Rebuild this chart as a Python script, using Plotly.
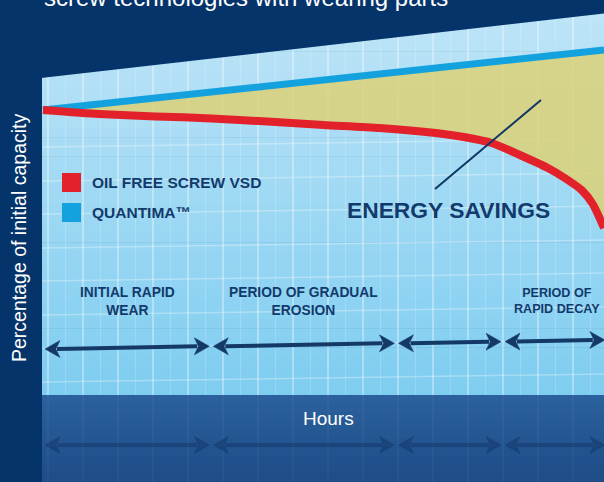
import plotly.graph_objects as go

# ---------------- data ----------------
hours_red = [0, 1, 2, 3, 4, 5, 6, 7, 7.5, 8, 8.5, 9, 9.3, 9.6, 9.8, 10]
oil_free_vsd = [100, 99.0, 98.4, 97.9, 97.1, 96.25, 95.5, 94.25, 93.25, 91.75,
                88.75, 85.5, 83.0, 80.0, 76.5, 70.5]
hours_blue = [0, 2, 4, 6, 8, 10]
quantima = [100, 103, 106, 109, 112, 115]
series_names = ["OIL FREE SCREW VSD", "QUANTIMA\u2122"]
phase_edges = [0, 3.0, 6.3, 8.2, 10.05]
phase_labels = ["INITIAL RAPID<br>WEAR", "PERIOD OF GRADUAL<br>EROSION", "",
                "PERIOD OF<br>RAPID DECAY"]
title_text = "screw technologies with wearing parts"
y_title = "Percentage of initial capacity"
x_title = "Hours"
callout = "ENERGY SAVINGS"

# ---------------- styling ----------------
W, H = 604, 482
NAVY = "#05346a"
TXT = "#123a6c"
RED = "#e3212b"
BLUE = "#14a2de"
YELLOW = "rgba(221,209,114,0.82)"
FONT = "Liberation Sans, Arial, sans-serif"

# pixel <-> data helpers (layout geometry only)
X0PX, XSCALE = 43.0, 56.1      # px of hour 0, px per hour
Y0PX, YSCALE = 110.0, 4.0      # px of 100 %, px per %


def fx(px):
    return (px - X0PX) / XSCALE


def fy(py):
    return 100 - (py - Y0PX) / YSCALE


def hx(h):
    return X0PX + h * XSCALE


def lerp_col(c1, c2, t):
    a = [int(c1[i:i + 2], 16) for i in (1, 3, 5)]
    b = [int(c2[i:i + 2], 16) for i in (1, 3, 5)]
    return "rgb(%d,%d,%d)" % tuple(round(a[k] + (b[k] - a[k]) * t) for k in range(3))


def poly(pts):
    return "M " + " L ".join("%.4f,%.4f" % (fx(p[0]), fy(p[1])) for p in pts) + " Z"


shapes = []
LEFT, RIGHT, TOP_L, TOP_R, BOT = 42, 604, 78, 13, 395

# light-blue panel as vertical gradient bands
N = 40
for i in range(N):
    t0 = TOP_R + (BOT - TOP_R) * i / N
    t1 = TOP_R + (BOT - TOP_R) * (i + 1) / N + 0.6
    shapes.append(dict(type="rect", xref="x", yref="y", layer="below",
                       x0=fx(LEFT), x1=fx(RIGHT + 2), y0=fy(t0), y1=fy(t1),
                       fillcolor=lerp_col("#bde4f7", "#7fcdf0", i / (N - 1)),
                       line=dict(width=0)))

# vertical grid lines
px = 48.0
while px < RIGHT:
    topy = TOP_L + (TOP_R - TOP_L) * (px - LEFT) / (RIGHT - LEFT)
    shapes.append(dict(type="line", xref="x", yref="y", layer="below",
                       x0=fx(px), x1=fx(px), y0=fy(topy), y1=fy(BOT),
                       line=dict(color="rgba(255,255,255,0.42)", width=1.6)))
    mx = px + 17.5
    if mx < RIGHT:
        topm = TOP_L + (TOP_R - TOP_L) * (mx - LEFT) / (RIGHT - LEFT)
        shapes.append(dict(type="line", xref="x", yref="y", layer="below",
                           x0=fx(mx), x1=fx(mx), y0=fy(topm), y1=fy(BOT),
                           line=dict(color="rgba(255,255,255,0.18)", width=1.2)))
    px += 35.0

# horizontal grid lines (slightly tilted)
for py in [143, 177, 210, 244, 277, 311, 344, 378]:
    shapes.append(dict(type="line", xref="x", yref="y", layer="below",
                       x0=fx(LEFT), x1=fx(RIGHT + 2), y0=fy(py + 4), y1=fy(py - 4),
                       line=dict(color="rgba(255,255,255,0.3)", width=1.5)))

# navy cover above the slanted top edge
shapes.append(dict(type="path", xref="x", yref="y", layer="below",
                   path=poly([(LEFT - 1, -5), (RIGHT + 5, -5), (RIGHT + 5, TOP_R),
                              (LEFT - 1, TOP_L)]),
                   fillcolor=NAVY, line=dict(width=0)))

# bottom dark-blue band
NB = 10
for i in range(NB):
    t0 = BOT + (H - BOT) * i / NB
    t1 = BOT + (H - BOT) * (i + 1) / NB + 0.6
    shapes.append(dict(type="rect", xref="x", yref="y", layer="below",
                       x0=fx(LEFT), x1=fx(RIGHT + 2), y0=fy(t0), y1=fy(t1),
                       fillcolor=lerp_col("#2a609c", "#1f4d87", i / (NB - 1)),
                       line=dict(width=0)))
px = 48.0
while px < RIGHT:
    shapes.append(dict(type="line", xref="x", yref="y", layer="below",
                       x0=fx(px), x1=fx(px), y0=fy(BOT), y1=fy(H),
                       line=dict(color="rgba(255,255,255,0.05)", width=1.5)))
    px += 35.0


def add_arrow(p1, p2, y1, y2, color, shaft=4.0, hl=15.0, hh=8.5):
    shapes.append(dict(type="line", xref="x", yref="y", layer="above",
                       x0=fx(p1 + hl - 3), x1=fx(p2 - hl + 3),
                       y0=fy(y1), y1=fy(y2), line=dict(color=color, width=shaft)))
    shapes.append(dict(type="path", xref="x", yref="y", layer="above",
                       path=poly([(p1, y1), (p1 + hl, y1 - hh), (p1 + hl * 0.72, y1),
                                  (p1 + hl, y1 + hh)]),
                       fillcolor=color, line=dict(color=color, width=0.5)))
    shapes.append(dict(type="path", xref="x", yref="y", layer="above",
                       path=poly([(p2, y2), (p2 - hl, y2 - hh), (p2 - hl * 0.72, y2),
                                  (p2 - hl, y2 + hh)]),
                       fillcolor=color, line=dict(color=color, width=0.5)))


def row_y(px, base_left, base_right):
    return base_left + (base_right - base_left) * (px - 45) / (604 - 45)


annotations = []
GAP = 2.0
for i in range(len(phase_edges) - 1):
    p1 = hx(phase_edges[i]) + GAP
    p2 = hx(phase_edges[i + 1]) - GAP
    add_arrow(p1, p2, row_y(p1, 349, 340), row_y(p2, 349, 340), "#143966")
    add_arrow(p1, p2, row_y(p1, 445, 445), row_y(p2, 445, 445),
              "rgba(18,55,105,0.55)")
    if phase_labels[i]:
        last = i == len(phase_edges) - 2
        annotations.append(dict(x=fx(602) if last else
                                (phase_edges[i] + phase_edges[i + 1]) / 2,
                                xanchor="right" if last else "center",
                                y=fy(301), xref="x", yref="y",
                                text="<b>%s</b>" % phase_labels[i],
                                showarrow=False, align="center",
                                font=dict(family=FONT, size=12.6 if last else 13.8,
                                          color=TXT)))

# callout leader line
shapes.append(dict(type="line", xref="x", yref="y", layer="above",
                   x0=fx(435), y0=fy(189), x1=fx(541), y1=fy(100),
                   line=dict(color="#0f3566", width=2)))

# legend swatches + text
for name, col, py in [(series_names[0], RED, 182.5), (series_names[1], BLUE, 212.5)]:
    shapes.append(dict(type="rect", xref="x", yref="y", layer="above",
                       x0=fx(62), x1=fx(81), y0=fy(py - 9.5), y1=fy(py + 9.5),
                       fillcolor=col, line=dict(width=0)))
    annotations.append(dict(x=fx(90), y=fy(py), xref="x", yref="y", xanchor="left",
                            yanchor="middle", text="<b>%s</b>" % name, showarrow=False,
                            font=dict(family=FONT, size=15.5, color=TXT)))

annotations += [
    dict(x=fx(448), y=fy(210), xref="x", yref="y", text="<b>%s</b>" % callout,
         showarrow=False, font=dict(family=FONT, size=22.8, color=TXT)),
    dict(x=fx(328), y=fy(418), xref="x", yref="y", text=x_title, showarrow=False,
         font=dict(family=FONT, size=19, color="white")),
    dict(x=fx(19), y=fy(238), xref="x", yref="y", text=y_title, textangle=-90,
         showarrow=False, font=dict(family=FONT, size=19.5, color="white")),
    dict(x=42 / W, y=1 + 3 / H, xref="paper", yref="paper", xanchor="left",
         yanchor="middle", text=title_text, showarrow=False,
         font=dict(family=FONT, size=24, color="white")),
]

fig = go.Figure()
fig.add_trace(go.Scatter(x=hours_blue, y=quantima, mode="lines", name=series_names[1],
                         line=dict(color=BLUE, width=7), showlegend=False,
                         hoverinfo="skip"))
fig.add_trace(go.Scatter(x=hours_red, y=oil_free_vsd, mode="lines",
                         name=series_names[0], fill="tonexty", fillcolor=YELLOW,
                         line=dict(color=RED, width=8, shape="spline", smoothing=0.6),
                         showlegend=False, hoverinfo="skip"))

fig.update_layout(
    width=W, height=H, margin=dict(l=0, r=0, t=0, b=0),
    paper_bgcolor=NAVY, plot_bgcolor=NAVY,
    xaxis=dict(range=[fx(0), fx(W)], visible=False, fixedrange=True),
    yaxis=dict(range=[fy(H), fy(0)], visible=False, fixedrange=True),
    shapes=shapes, annotations=annotations, showlegend=False,
)
fig.write_html("out.html", config={"displayModeBar": False},
               post_script="document.body.style.margin='0';"
                           "document.body.style.overflow='hidden';")
